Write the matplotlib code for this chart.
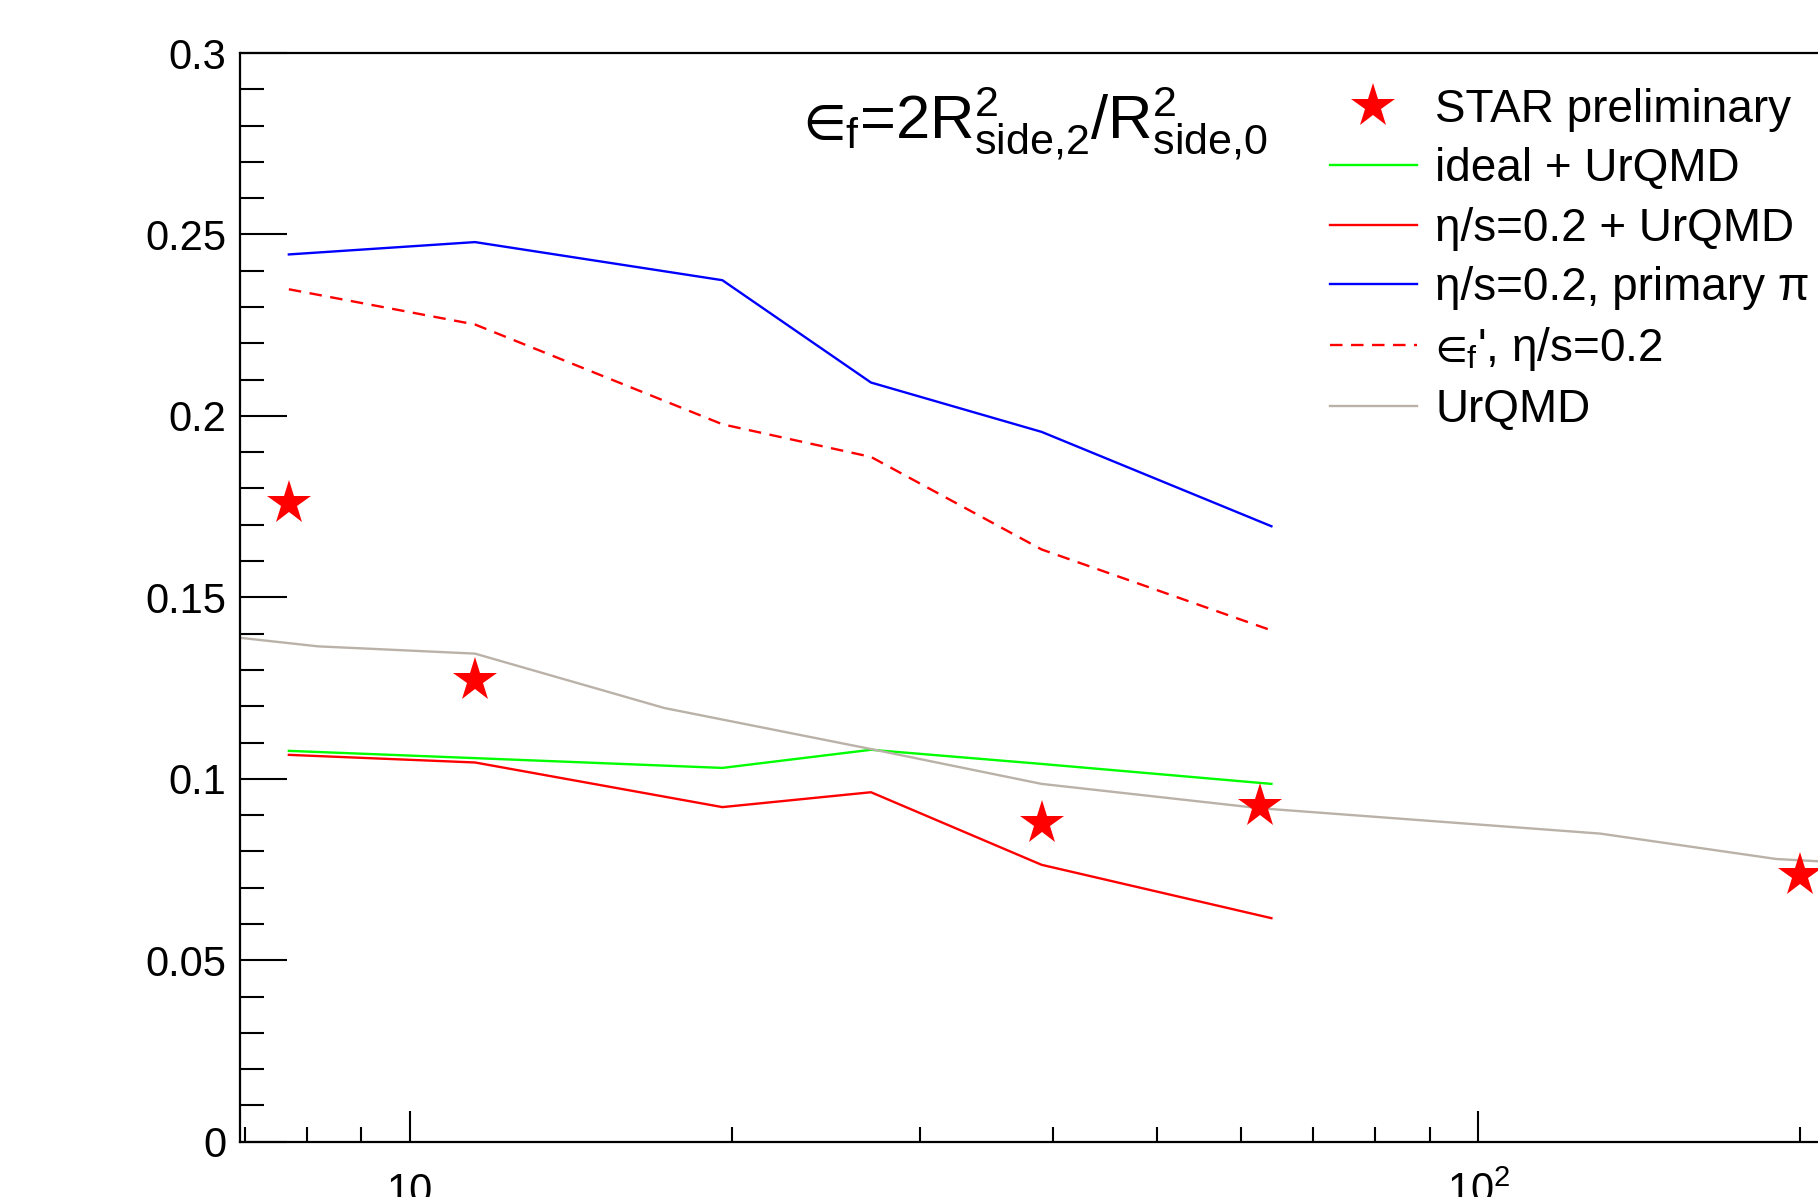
import matplotlib
matplotlib.use("Agg")
import matplotlib.pyplot as plt
from matplotlib.ticker import FixedLocator, FixedFormatter, NullFormatter

plt.rcParams['font.family'] = ['Liberation Sans', 'DejaVu Sans']
plt.rcParams['mathtext.fontset'] = 'custom'
plt.rcParams['mathtext.rm'] = 'Liberation Sans'
plt.rcParams['mathtext.it'] = 'Liberation Sans:italic'
plt.rcParams['mathtext.default'] = 'regular'

# STAR preliminary points
star_energy = [7.7, 11.5, 39, 62.4, 200]
star_eps = [0.1761, 0.1273, 0.0878, 0.0924, 0.0736]

# hydro + UrQMD model curves
hydro_energy = [7.7, 11.5, 19.6, 27, 39, 64]
ideal_eps = [0.1077, 0.1057, 0.1030, 0.1080, 0.1041, 0.0986]
visc_eps = [0.1066, 0.1045, 0.0922, 0.0963, 0.0763, 0.0616]
primary_eps = [0.2445, 0.2479, 0.2374, 0.2092, 0.1956, 0.1696]
eps_prime = [0.2349, 0.2252, 0.1977, 0.1887, 0.1632, 0.1409]

# pure UrQMD
urqmd_energy = [6.3, 8.2, 11.5, 17.3, 27, 39, 62.4, 130, 190, 250]
urqmd_eps = [0.1402, 0.1365, 0.1345, 0.1195, 0.1082, 0.0986, 0.0919, 0.0849, 0.0779, 0.0760]

fig = plt.figure(figsize=(18.18, 11.97), dpi=100)
ax = fig.add_axes([0.1320, 0.0462, 0.9151, 0.9095])

lw = 1.7
l_ideal, = ax.plot(hydro_energy, ideal_eps, color='#00ff00', lw=lw)
l_visc, = ax.plot(hydro_energy, visc_eps, color='#ff0000', lw=lw)
l_prim, = ax.plot(hydro_energy, primary_eps, color='#0000ff', lw=lw)
l_prime, = ax.plot(hydro_energy, eps_prime, color='#ff0000', lw=lw, linestyle=(0, (5.3, 3.6)))
l_urqmd, = ax.plot(urqmd_energy, urqmd_eps, color='#bab2a8', lw=lw)
l_star, = ax.plot(star_energy, star_eps, linestyle='none', marker='*', ms=33,
                  color='#ff0000', markeredgewidth=0, zorder=5)

ax.set_xscale('log')
ax.set_xlim(6.93, 250)
ax.set_ylim(0, 0.3)

ax.xaxis.set_major_locator(FixedLocator([10, 100]))
ax.xaxis.set_major_formatter(FixedFormatter(['10', r'$10^{2}$']))
ax.xaxis.set_minor_locator(FixedLocator([7, 8, 9, 20, 30, 40, 50, 60, 70, 80, 90, 200]))
ax.xaxis.set_minor_formatter(NullFormatter())
ax.yaxis.set_major_locator(FixedLocator([0, 0.05, 0.1, 0.15, 0.2, 0.25, 0.3]))
ax.yaxis.set_major_formatter(FixedFormatter(['0', '0.05', '0.1', '0.15', '0.2', '0.25', '0.3']))
ax.yaxis.set_minor_locator(FixedLocator([i * 0.01 for i in range(31)]))

ax.tick_params(axis='both', which='both', direction='in', width=1.5, labelsize=30)
ax.tick_params(axis='y', which='major', length=34, pad=10)
ax.tick_params(axis='y', which='minor', length=17)
ax.tick_params(axis='x', which='major', length=22, pad=44)
ax.tick_params(axis='x', which='minor', length=11)
for lab in ax.get_xticklabels():
    lab.set_verticalalignment('baseline')
for sp in ax.spines.values():
    sp.set_linewidth(1.6)

fig.text(0.4418, 0.8845, r'$∈_{f}$=2$R^{2}_{side{,}2}$/$R^{2}_{side{,}0}$',
         fontsize=44.3, ha='left', va='baseline')

ax.legend([l_star, l_ideal, l_visc, l_prim, l_prime, l_urqmd],
          ['STAR preliminary', 'ideal + UrQMD', 'η/s=0.2 + UrQMD',
           'η/s=0.2, primary π', r"$∈_{f}$', η/s=0.2", 'UrQMD'],
          loc='upper left', bbox_to_anchor=(0.7314, 0.9262), bbox_transform=fig.transFigure,
          frameon=False, fontsize=33, handlelength=1.91, handletextpad=0.39,
          labelspacing=0.33, borderpad=0, borderaxespad=0, numpoints=1)

fig.savefig('out.png', dpi=100)
